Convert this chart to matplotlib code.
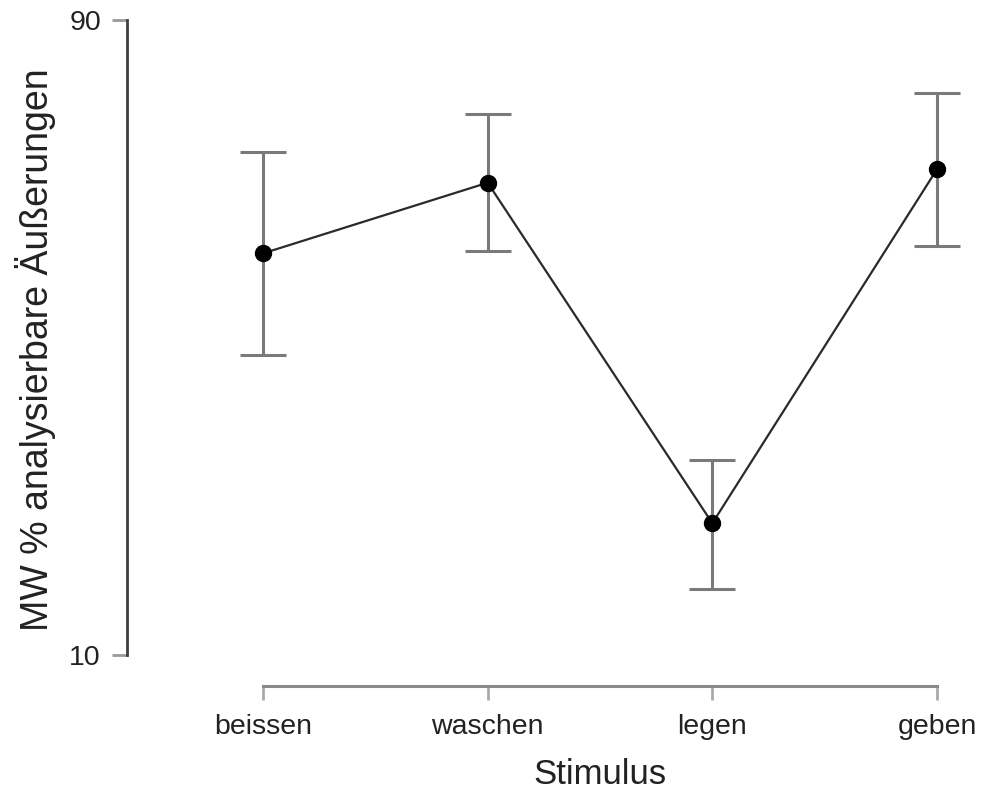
import matplotlib
matplotlib.use("Agg")
import matplotlib.pyplot as plt

categories = ["beissen", "waschen", "legen", "geben"]
means = [60.6, 69.5, 26.6, 71.2]
upper = [73.4, 78.2, 34.6, 80.8]
lower = [47.8, 60.9, 18.3, 61.5]
yticks = [10, 90]

plt.rcParams['font.family'] = ['Liberation Sans', 'DejaVu Sans']

fig = plt.figure(figsize=(9.81, 7.93), dpi=100)
ax_left, ax_right, ax_top, ax_bot = 127, 965, 20, 655
ax = fig.add_axes([ax_left/981, 1-ax_bot/793, (ax_right-ax_left)/981, (ax_bot-ax_top)/793])

x = list(range(len(categories)))
yerr = [[m - l for m, l in zip(means, lower)], [u - m for m, u in zip(means, upper)]]
ax.errorbar(x, means, yerr=yerr, fmt='none', ecolor='#7a7a7a', elinewidth=2.2,
            capsize=16.5, capthick=2.2, zorder=2)
ax.plot(x, means, color='#2a2a2a', linewidth=1.6, zorder=3)
ax.plot(x, means, 'o', color='black', markersize=11.5, zorder=4)

ppu = (937-263)/3
xl0 = -(263-ax_left)/ppu
xl1 = 3 + (ax_right-937)/ppu
ax.set_xlim(xl0, xl1)
ax.set_ylim(10, 90)

ax.spines['top'].set_visible(False)
ax.spines['right'].set_visible(False)
ax.spines['left'].set_color('#404040')
ax.spines['left'].set_linewidth(2.0)
ax.spines['left'].set_bounds(10, 90)
ax.spines['bottom'].set_position(('outward', 22.3))
ax.spines['bottom'].set_bounds(0, 3)
ax.spines['bottom'].set_color('#8a8a8a')
ax.spines['bottom'].set_linewidth(2.2)

ax.set_xticks(x)
ax.set_xticklabels(categories, fontsize=20.5, color='#222222')
ax.set_yticks(yticks)
ax.set_yticklabels([str(t) for t in yticks], fontsize=20.5, color='#222222')
ax.tick_params(axis='y', length=10.8, width=2.0, color='#999999', pad=8)
ax.tick_params(axis='x', length=10, width=2.0, color='#aaaaaa', pad=10)

ax.set_xlabel("Stimulus", fontsize=25, color='#222222')
ax.set_ylabel("MW % analysierbare Äußerungen", fontsize=27, color='#222222')
ax.xaxis.set_label_coords((1.5 - xl0)/(xl1 - xl0), -(775-ax_bot)/(ax_bot-ax_top), transform=ax.transAxes)
ax.xaxis.label.set_va('center')
ax.yaxis.set_label_coords(-(ax_left-36)/(ax_right-ax_left), (ax_bot-350)/(ax_bot-ax_top))
ax.yaxis.label.set_va('center')

fig.savefig("out.png", dpi=100)
